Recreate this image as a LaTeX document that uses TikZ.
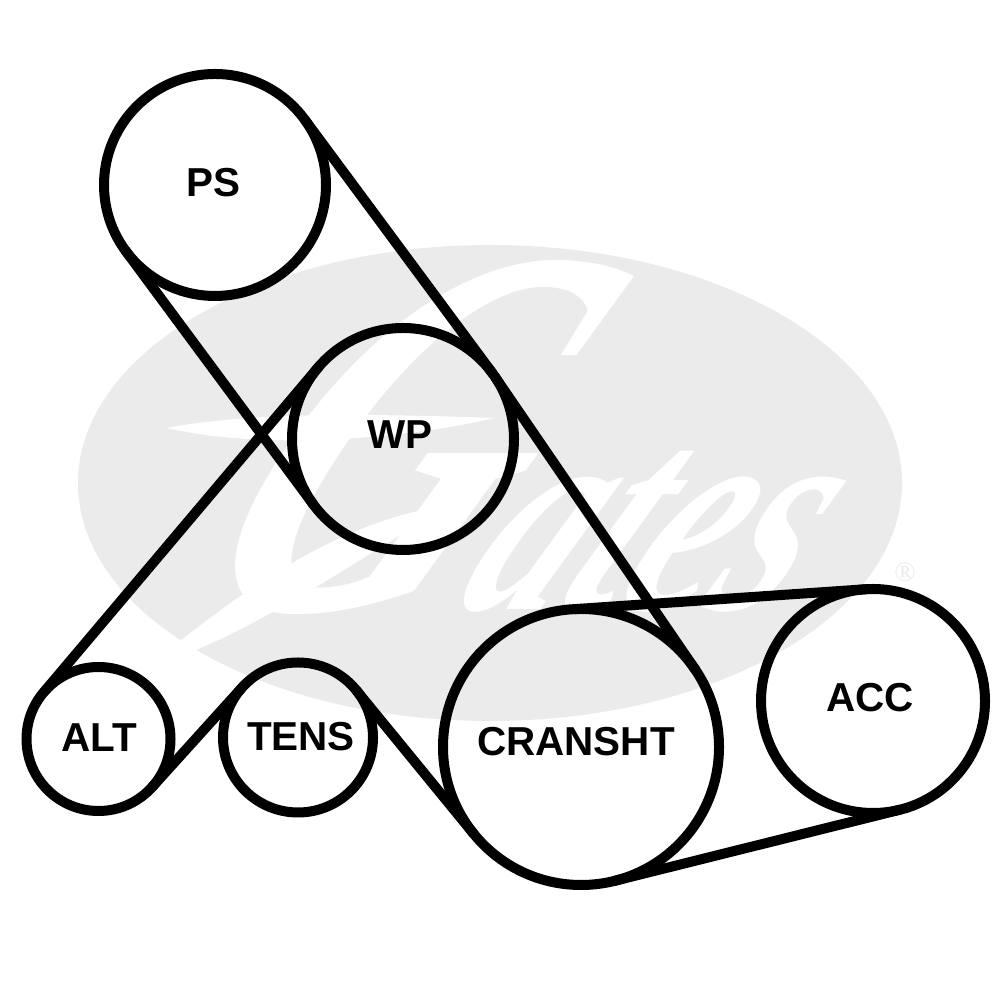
\documentclass[tikz,border=0pt]{standalone}
\usepackage{fontspec}
\setmainfont{Liberation Sans}
\newfontfamily\logofont{Liberation Serif}
\usepackage{xcolor}
\usepackage{tikz}
\usetikzlibrary{positioning}
\usetikzlibrary{shapes.geometric}
\definecolor{logogrey}{HTML}{EBEBEB}
\tikzset{
  pulley/.style={circle, draw=black, line width=1mm, outer sep=0pt, inner sep=0pt},
  pulleytext/.style={inner sep=0pt, font=\bfseries\fontsize{11.5}{13}\selectfont},
  belt/.style={line width=1mm, line cap=round}
}

\begin{document}
\begin{tikzpicture}
    \useasboundingbox (0,0) rectangle (10,10);
    % watermark
    \node[ellipse, fill=logogrey, minimum width=8.24cm, minimum height=4.76cm, inner sep=0pt] (LOGO) at (4.9,5.17) {};
    \node[white, anchor=base west, inner sep=0pt, xslant=0.6, xscale=0.72, font=\logofont\bfseries\itshape] (NAME) at (1.75,3.9) {\fontsize{150}{150}\selectfont G\fontsize{80}{80}\selectfont ates};
    \fill[white] (1.67,5.72) .. controls (2.6,5.9) and (4,5.85) .. (4.95,5.82) .. controls (4,5.6) and (2.6,5.5) .. (1.67,5.72);
    \fill[white] (4.5,4.95) .. controls (3.4,4.8) and (2.4,4.1) .. (1.45,3.3) .. controls (2.6,3.7) and (3.4,4.3) .. (4.5,4.95);
    \node[logogrey, font=\logofont\fontsize{8}{8}\selectfont] (REG) at (9.05,4.28) {\textregistered};
    % pulleys
    \node[pulley, minimum size=2.22cm] (PS) at (2.15,8.15) {};
    \node[pulley, minimum size=2.22cm] (WP) at (4.03,5.61) {};
    \node[pulley, minimum size=1.44cm] (ALT) at (0.985,2.61) {};
    \node[pulley, minimum size=1.50cm] (TENS) at (2.98,2.625) {};
    \node[pulley, minimum size=2.76cm] (CRANSHT) at (5.81,2.53) {};
    \node[pulley, minimum size=2.24cm] (ACC) at (8.73,2.99) {};
    \node[pulleytext] (PSlabel) at (2.13,8.17) {PS};
    \node[pulleytext] (WPlabel) at (4.00,5.65) {WP};
    \node[pulleytext] (ALTlabel) at (0.99,2.62) {ALT};
    \node[pulleytext] (TENSlabel) at (3.01,2.63) {TENS};
    \node[pulleytext] (CRANSHTlabel) at (5.76,2.58) {CRANSHT};
    \node[pulleytext] (ACClabel) at (8.70,3.02) {ACC};
    % belt
    \path [belt] (PS.36.5) edge (WP.36.5);
    \path [belt] (WP.34.4) edge (CRANSHT.34.4);
    \path [belt] (PS.216.5) edge (WP.216.5);
    \path [belt] (ALT.139.8) edge (WP.139.8);
    \path [belt] (ALT.-42) edge (TENS.138);
    \path [belt] (TENS.39.2) edge (CRANSHT.219.2);
    \path [belt] (CRANSHT.93.9) edge (ACC.93.9);
    \path [belt] (CRANSHT.-76) edge (ACC.-76);
  \end{tikzpicture}
\end{document}
